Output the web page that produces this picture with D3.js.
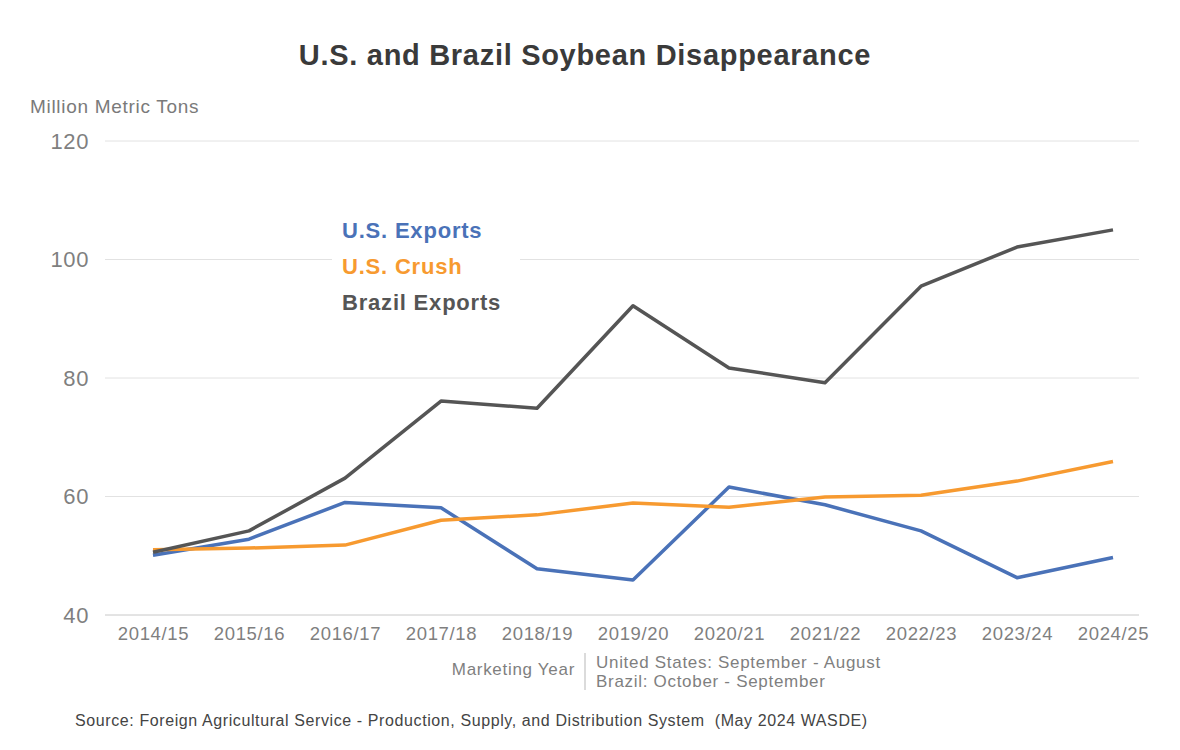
<!DOCTYPE html>
<html>
<head>
<meta charset="utf-8">
<script src="https://cdn.jsdelivr.net/npm/d3@7"></script>
<style>
  body { margin: 0; background: #fff; }
  svg { font-family: "Liberation Sans", Arial, sans-serif; }
</style>
</head>
<body>
<div id="chart"></div>
<script>
// marketing years and series (million metric tons)
const years = ["2014/15", "2015/16", "2016/17", "2017/18", "2018/19", "2019/20",
               "2020/21", "2021/22", "2022/23", "2023/24", "2024/25"];
const usExports = [50.1, 52.8, 59.0, 58.1, 47.8, 45.9, 61.6, 58.6, 54.2, 46.3, 49.7];
const usCrush = [51.0, 51.3, 51.8, 56.0, 56.9, 58.9, 58.2, 59.9, 60.2, 62.6, 65.9];
const brazilExports = [50.6, 54.2, 63.1, 76.1, 74.9, 92.2, 81.7, 79.2, 95.5, 102.1, 105.0];
const yTicks = [40, 60, 80, 100, 120];

const series = [
    {name: "U.S. Exports", values: usExports, color: "#4a72b8"},
    {name: "U.S. Crush", values: usCrush, color: "#f79a30"},
    {name: "Brazil Exports", values: brazilExports, color: "#555555"}
];

const width = 1180, height = 750;
const plotLeft = 105, plotRight = 1139;

let svg = d3.select("#chart")
    .append("svg")
    .attr("width", width)
    .attr("height", height);

const x = d3.scalePoint()
    .domain(years)
    .range([153, 1113]);

const y = d3.scaleLinear()
    .domain([40, 120])
    .range([615, 141]);

// title
svg.append("text")
    .attr("x", 585)
    .attr("y", 65)
    .attr("text-anchor", "middle")
    .style("font-size", "29px")
    .style("letter-spacing", "0.7px")
    .style("font-weight", "bold")
    .style("fill", "#3a3a3a")
    .text("U.S. and Brazil Soybean Disappearance");

svg.append("text")
    .attr("x", 30)
    .attr("y", 113)
    .style("font-size", "19px")
    .style("letter-spacing", "0.7px")
    .style("fill", "#7a7a7a")
    .text("Million Metric Tons");

// gridlines
svg.append("g")
    .selectAll("line")
    .data(yTicks)
    .join("line")
    .attr("x1", plotLeft)
    .attr("x2", plotRight)
    .attr("y1", d => y(d))
    .attr("y2", d => y(d))
    .attr("stroke", d => d === 40 ? "#c8c8c8" : "#e2e2e2")
    .attr("stroke-width", 1);

// y tick labels
const yAxis = g => g
    .attr("transform", `translate(${plotLeft - 16}, 0)`)
    .call(d3.axisLeft(y).tickValues(yTicks).tickSize(0).tickPadding(0))
    .call(g => g.select(".domain").remove())
    .call(g => g.selectAll("text")
        .style("font-size", "22px")
        .style("letter-spacing", "0.6px")
        .style("fill", "#7f7f7f")
        .style("font-family", "Liberation Sans, Arial, sans-serif"));
svg.append("g").call(yAxis);

// x tick labels
const xAxis = g => g
    .attr("transform", `translate(0, ${y(40) + 12})`)
    .call(d3.axisBottom(x).tickSize(0).tickPadding(0))
    .call(g => g.select(".domain").remove())
    .call(g => g.selectAll("text")
        .style("font-size", "18.5px")
        .style("letter-spacing", "0.65px")
        .style("fill", "#7f7f7f")
        .style("font-family", "Liberation Sans, Arial, sans-serif"));
svg.append("g").call(xAxis);

// lines
const line = d3.line()
    .x((d, i) => x(years[i]))
    .y(d => y(d));

svg.append("g")
    .selectAll("path")
    .data(series)
    .join("path")
    .attr("d", d => line(d.values))
    .attr("fill", "none")
    .attr("stroke", d => d.color)
    .attr("stroke-width", 3.5)
    .attr("stroke-linejoin", "round");

// legend with white background
svg.append("rect")
    .attr("x", 332)
    .attr("y", 208)
    .attr("width", 188)
    .attr("height", 112)
    .attr("fill", "#fff");

svg.append("g")
    .selectAll("text")
    .data(series)
    .join("text")
    .attr("x", 342)
    .attr("y", (d, i) => 238 + i * 36)
    .style("font-size", "22px")
    .style("letter-spacing", "0.8px")
    .style("font-weight", "bold")
    .style("fill", d => d.color)
    .text(d => d.name);

// marketing year note
const noteStyle = sel => sel
    .style("font-size", "17px")
    .style("letter-spacing", "0.7px")
    .style("fill", "#7f7f7f");

svg.append("text")
    .attr("x", 575)
    .attr("y", 675)
    .attr("text-anchor", "end")
    .call(noteStyle)
    .text("Marketing Year");

svg.append("line")
    .attr("x1", 585).attr("x2", 585)
    .attr("y1", 653).attr("y2", 690)
    .attr("stroke", "#cfcfcf")
    .attr("stroke-width", 1.5);

svg.append("text")
    .attr("x", 596)
    .attr("y", 668)
    .call(noteStyle)
    .text("United States: September - August");

svg.append("text")
    .attr("x", 596)
    .attr("y", 687)
    .call(noteStyle)
    .text("Brazil: October - September");

// source
svg.append("text")
    .attr("x", 75)
    .attr("y", 726)
    .style("font-size", "16px")
    .style("letter-spacing", "0.6px")
    .style("fill", "#444")
    .style("white-space", "pre")
    .text("Source: Foreign Agricultural Service - Production, Supply, and Distribution System  (May 2024 WASDE)");
</script>
</body>
</html>
